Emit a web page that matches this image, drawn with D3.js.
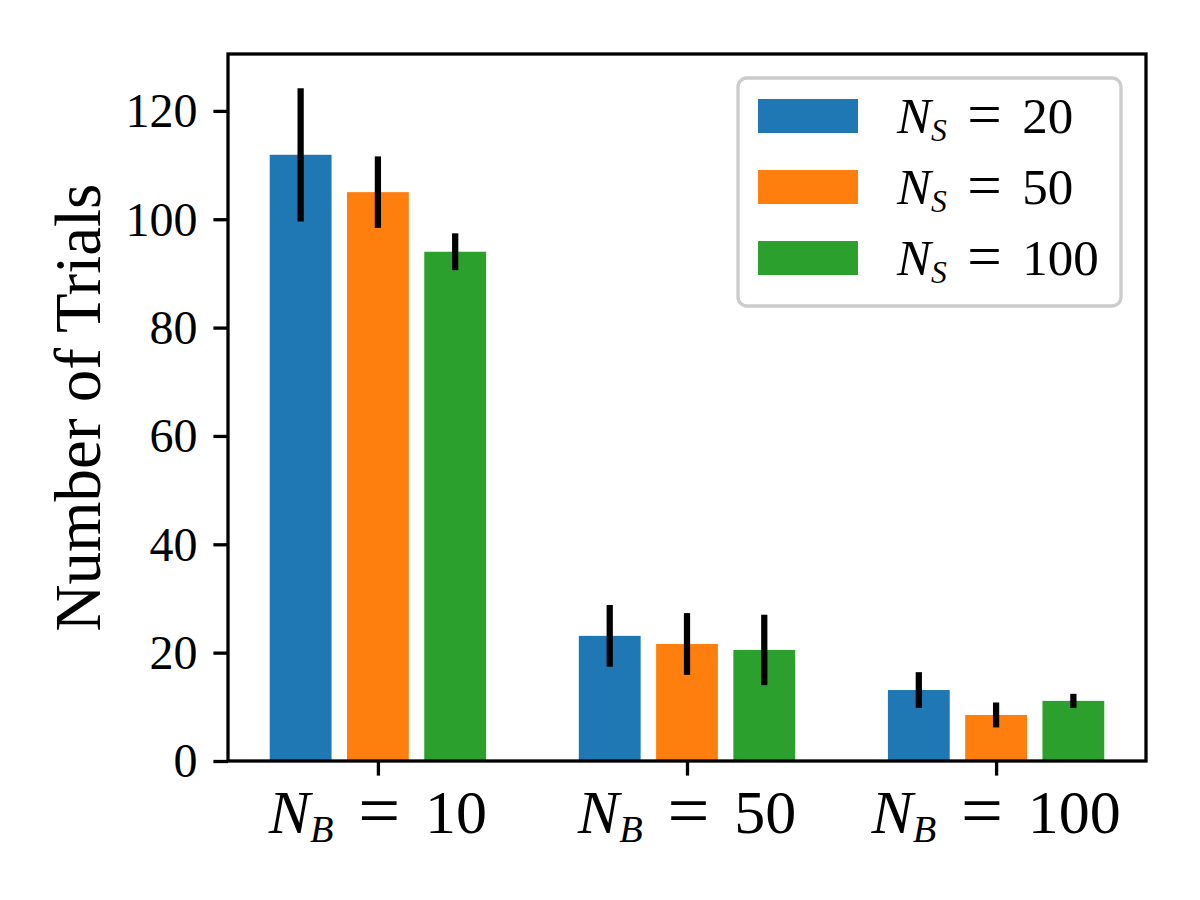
<!DOCTYPE html>
<html>
<head>
<meta charset="utf-8">
<script src="https://cdn.jsdelivr.net/npm/d3@7"></script>
<style>
  html, body { margin: 0; padding: 0; background: #fff; }
  text { font-family: "Liberation Serif", "DejaVu Serif", serif; fill: #000; }
</style>
</head>
<body>
<div id="chart"></div>
<script>
'use strict';

// ---------- data ---------- //
var groupLabels = ['10', '50', '100'];        // N_B
var seriesLabels = ['20', '50', '100'];       // N_S
var meanNs20 = [111.9, 23.1, 13.1];
var meanNs50 = [105.0, 21.6, 8.5];
var meanNs100 = [94.0, 20.5, 11.1];
var errNs20 = [12.3, 5.7, 3.3];
var errNs50 = [6.6, 5.7, 2.3];
var errNs100 = [3.4, 6.5, 1.3];
var yTicks = [0, 20, 40, 60, 80, 100, 120];

var colors = ['#1f77b4', '#ff7f0e', '#2ca02c'];
var means = [meanNs20, meanNs50, meanNs100];
var errs = [errNs20, errNs50, errNs100];
var offsets = [-0.25, 0, 0.25];
var barW = 0.2;

// ---------- layout ---------- //
var width = 1200, height = 900;
var axLeft = 228, axRight = 1146, axTop = 54, axBottom = 761;
var lw = 3.3;

var svg = d3.select('#chart').append('svg')
  .attr('width', width)
  .attr('height', height);

var x = d3.scaleLinear().domain([-0.485, 2.485]).range([axLeft, axRight]);
var y = d3.scaleLinear().domain([0, 130.5]).range([axBottom, axTop]);

// flatten into bar records
var bars = [];
means.forEach(function (s, j) {
  s.forEach(function (v, i) {
    bars.push({ g: i, s: j, v: v, e: errs[j][i] });
  });
});

// bars
svg.selectAll('rect.bar').data(bars).enter().append('rect')
  .attr('class', 'bar')
  .attr('x', function (d) { return x(d.g + offsets[d.s] - barW / 2); })
  .attr('width', function (d) { return x(barW) - x(0); })
  .attr('y', function (d) { return y(d.v); })
  .attr('height', function (d) { return y(0) - y(d.v); })
  .attr('fill', function (d) { return colors[d.s]; });

// error bars
svg.selectAll('line.err').data(bars).enter().append('line')
  .attr('class', 'err')
  .attr('x1', function (d) { return x(d.g + offsets[d.s]); })
  .attr('x2', function (d) { return x(d.g + offsets[d.s]); })
  .attr('y1', function (d) { return y(d.v - d.e); })
  .attr('y2', function (d) { return y(d.v + d.e); })
  .attr('stroke', '#000')
  .attr('stroke-width', 6.25);

// y axis
var yAxis = svg.append('g')
  .attr('transform', 'translate(' + axLeft + ',0)')
  .call(d3.axisLeft(y).tickValues(yTicks).tickSize(14.6).tickPadding(16));
yAxis.select('.domain').remove();
yAxis.selectAll('.tick line').attr('stroke', '#000').attr('stroke-width', lw);
yAxis.selectAll('.tick text')
  .attr('font-size', 48)
  .attr('font-family', '"Liberation Serif", serif')
  .attr('dy', '0.33em');

// x axis
var xAxis = svg.append('g')
  .attr('transform', 'translate(0,' + axBottom + ')')
  .call(d3.axisBottom(x).tickValues([0, 1, 2]).tickSize(14.6).tickFormat(''));
xAxis.select('.domain').remove();
xAxis.selectAll('.tick line').attr('stroke', '#000').attr('stroke-width', lw);

// math-style label: N_sub = val
function mathLabel(sel, sub, val, size) {
  var sh = size * 0.15, eq = size * 0.03;
  sel.append('tspan').attr('font-style', 'italic').text('N');
  sel.append('tspan').attr('font-style', 'italic')
    .attr('font-size', size * 0.62).attr('dy', sh).text(sub);
  sel.append('tspan')
    .attr('font-size', size * 1.2)
    .attr('dy', -sh + eq).attr('dx', size * 0.4).text('=');
  sel.append('tspan').attr('dy', -eq).attr('dx', size * 0.4).text(val);
}
groupLabels.forEach(function (g, i) {
  var t = svg.append('text')
    .attr('x', x(i))
    .attr('y', 833)
    .attr('text-anchor', 'middle')
    .attr('font-size', 62);
  mathLabel(t, 'B', g, 62);
});

// frame
svg.append('rect')
  .attr('x', axLeft).attr('y', axTop)
  .attr('width', axRight - axLeft).attr('height', axBottom - axTop)
  .attr('fill', 'none')
  .attr('stroke', '#000')
  .attr('stroke-width', lw);

// y label
svg.append('text')
  .attr('transform', 'translate(100,' + ((axTop + axBottom) / 2) + ') rotate(-90)')
  .attr('text-anchor', 'middle')
  .attr('font-size', 65)
  .text('Number of Trials');

// legend
var legend = svg.append('g');
legend.append('rect')
  .attr('x', 738).attr('y', 78)
  .attr('width', 383).attr('height', 228)
  .attr('rx', 9)
  .attr('fill', '#fff').attr('fill-opacity', 0.8)
  .attr('stroke', '#cccccc').attr('stroke-width', lw);
var rows = legend.selectAll('g.row').data(seriesLabels).enter().append('g')
  .attr('class', 'row')
  .attr('transform', function (d, j) { return 'translate(0,' + (99 + j * 71) + ')'; });
rows.append('rect')
  .attr('x', 758).attr('width', 100).attr('height', 34)
  .attr('fill', function (d, j) { return colors[j]; });
rows.append('text')
  .attr('x', 897).attr('y', 34)
  .attr('font-size', 51)
  .each(function (d) { mathLabel(d3.select(this), 'S', d, 51); });
</script>
</body>
</html>
